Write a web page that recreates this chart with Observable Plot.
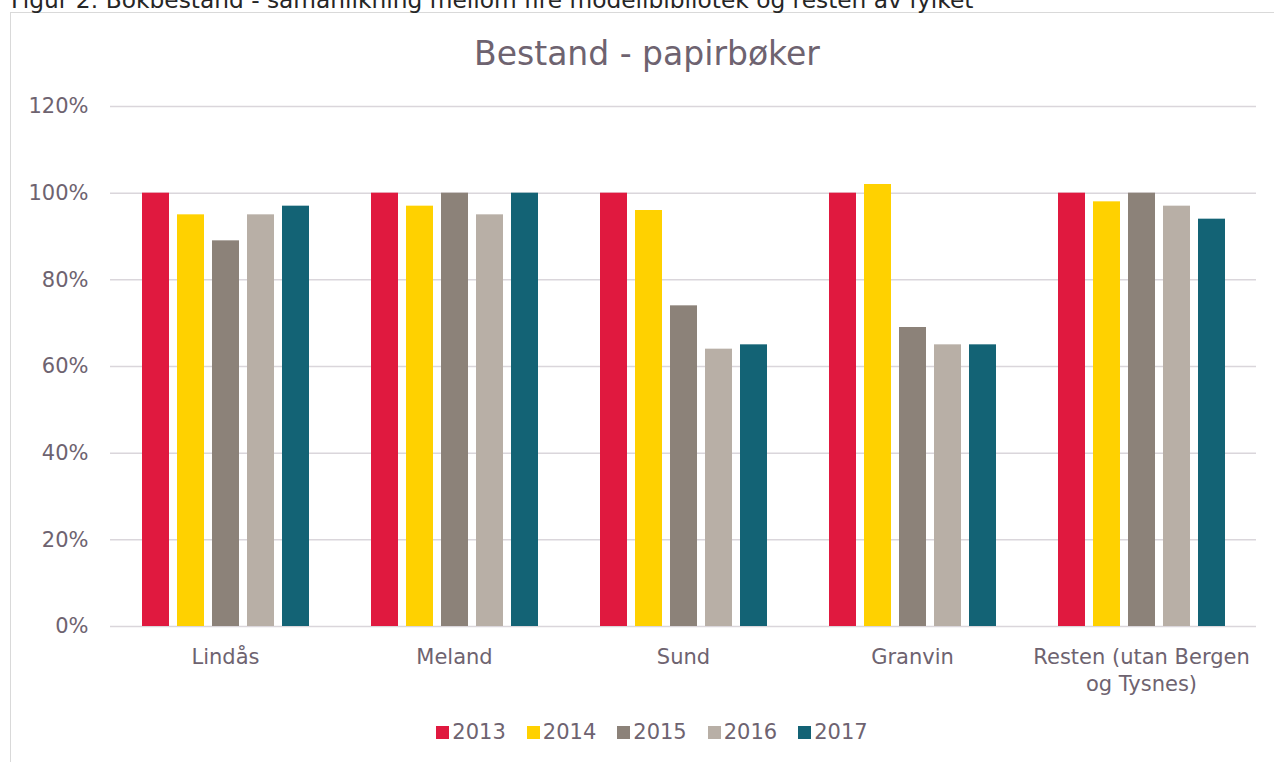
<!DOCTYPE html>
<html>
<head>
<meta charset="utf-8">
<script src="https://cdn.jsdelivr.net/npm/d3@7"></script>
<script src="https://cdn.jsdelivr.net/npm/@observablehq/plot@0.6"></script>
<style>
  html, body { margin: 0; padding: 0; background: #fff; }
  #wrap { position: relative; width: 1274px; height: 762px; overflow: hidden; font-family: "DejaVu Sans", sans-serif; }
  #header { position: absolute; left: 11px; top: -14px; font-size: 23.3px; line-height: normal; color: #262626; white-space: nowrap; }
  #frame { position: absolute; left: 10px; top: 12px; width: 1300px; height: 800px; border: 1.5px solid #d9d9d9; box-sizing: border-box; }
  #title { position: absolute; left: 0; width: 1294px; top: 34px; text-align: center; font-size: 33px; color: #6e6370; }
  .layer { position: absolute; left: 0; top: 0; }
  #legend { position: absolute; left: 0; width: 1304px; top: 720px; display: flex; justify-content: center; gap: 21px; font-size: 21px; color: #6e6370; }
  #legend .item { display: flex; align-items: center; }
  #legend .sw { width: 13px; height: 13px; margin-right: 3px; display: inline-block; }
</style>
</head>
<body>
<div id="wrap">
  <div id="frame"></div>
  <div id="header">Figur 2: Bokbestand - samanlikning mellom fire modellbibliotek og resten av fylket</div>
  <div id="title">Bestand - papirbøker</div>
  <div id="grid" class="layer"></div>
  <div id="chart" class="layer"></div>
  <div id="legend"></div>
</div>
<script>
const categories = ["Lindås", "Meland", "Sund", "Granvin", "Resten (utan Bergen og Tysnes)"];
const years = ["2013", "2014", "2015", "2016", "2017"];
const v2013 = [100, 100, 100, 100, 100];
const v2014 = [95, 97, 96, 102, 98];
const v2015 = [89, 100, 74, 69, 100];
const v2016 = [95, 95, 64, 65, 97];
const v2017 = [97, 100, 65, 65, 94];
const yTicks = [0, 20, 40, 60, 80, 100, 120];
const colors = ["#E0193F", "#FFD100", "#8C8279", "#B8AFA6", "#136375"];

const series = [v2013, v2014, v2015, v2016, v2017];
const data = [];
categories.forEach((c, i) => {
  years.forEach((y, j) => data.push({category: c, year: y, value: series[j][i]}));
});

const textColor = "#6e6370";
const common = {
  width: 1274,
  height: 700,
  marginLeft: 110,
  marginRight: 18,
  marginTop: 106,
  marginBottom: 74,
  style: {fontFamily: "DejaVu Sans, sans-serif", fontSize: "21px", color: textColor, background: "transparent"},
  y: {domain: [0, 120], label: null, axis: null}
};

// Background layer: continuous gridlines and y axis
const grid = Plot.plot({
  ...common,
  x: {domain: [0, 1], axis: null},
  marks: [
    Plot.gridY(yTicks, {stroke: "#dad6db", strokeOpacity: 1, strokeWidth: 1.5}),
    Plot.axisY(yTicks, {tickSize: 0, tickPadding: 22, label: null, tickFormat: d => d + "%", fill: textColor})
  ]
});
document.getElementById("grid").appendChild(grid);

// Foreground layer: grouped bars and category axis
const chart = Plot.plot({
  ...common,
  fx: {domain: categories, paddingInner: 0.23, paddingOuter: 0.115, label: null, axis: null},
  x: {domain: years, paddingInner: 0.235, paddingOuter: 0.1175, axis: null},
  color: {domain: years, range: colors},
  marks: [
    Plot.barY(data, {fx: "category", x: "year", y: "value", fill: "year"}),
    Plot.axisFx({anchor: "bottom", tickSize: 0, tickPadding: 19, label: null, lineHeight: 1.27, fill: textColor,
      tickFormat: d => d.replace(" og ", "\nog ")})
  ]
});
document.getElementById("chart").appendChild(chart);

const legend = document.getElementById("legend");
years.forEach((y, i) => {
  const item = document.createElement("div");
  item.className = "item";
  const sw = document.createElement("span");
  sw.className = "sw";
  sw.style.background = colors[i];
  item.appendChild(sw);
  const t = document.createElement("span");
  t.textContent = y;
  item.appendChild(t);
  legend.appendChild(item);
});
</script>
</body>
</html>
